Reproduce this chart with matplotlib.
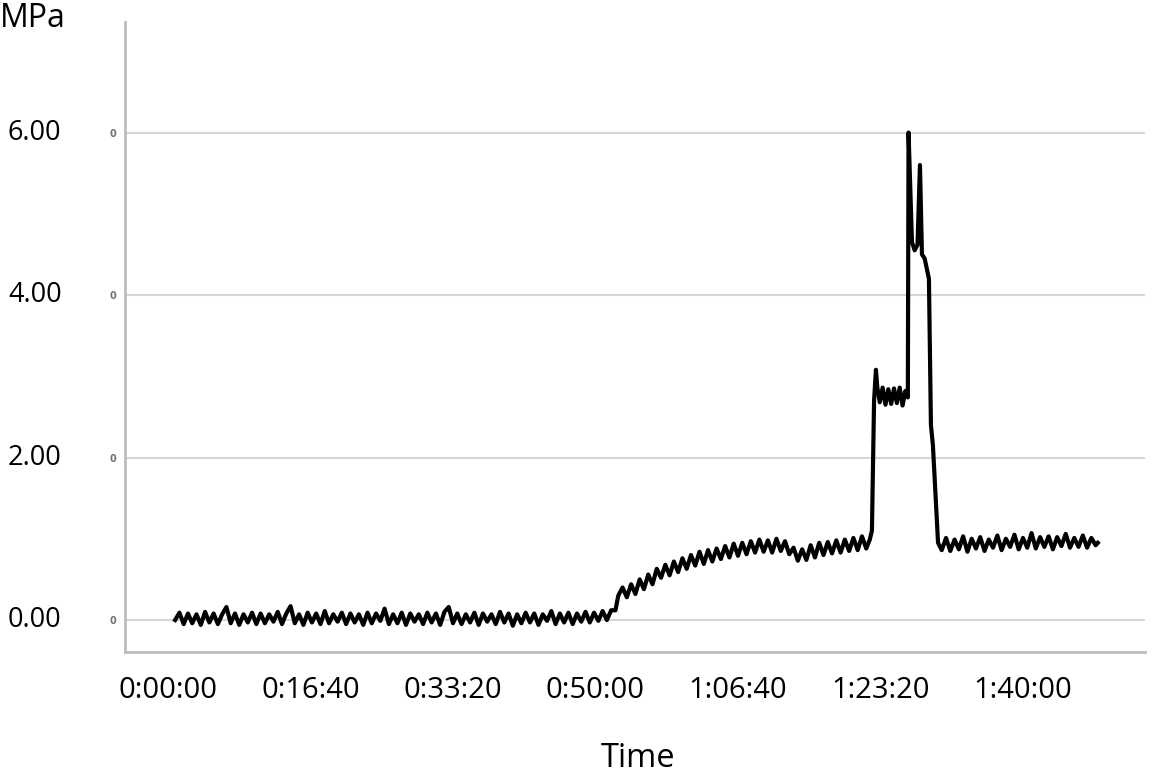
import matplotlib
matplotlib.use("Agg")
import matplotlib.pyplot as plt
import matplotlib.transforms as mtransforms

# ---- data ----
# flat start, ~0 MPa
t_start = [
    50, 80, 110, 140, 170, 200, 230, 260, 290, 320, 350, 380, 410, 440, 470, 500, 530, 560, 590, 620,
    650, 680, 710, 740, 770, 800, 830, 860, 890, 920, 950, 980, 1010, 1040, 1070, 1100, 1130, 1160, 1190, 1220,
    1250, 1280, 1310, 1340, 1370, 1400, 1430, 1460, 1490, 1520, 1550, 1580, 1610, 1640, 1670, 1700, 1730, 1760, 1790, 1820,
    1850, 1880, 1910, 1940, 1970, 2000, 2030, 2060, 2090, 2120, 2150, 2180, 2210, 2240, 2270, 2300, 2330, 2360, 2390, 2420,
    2450, 2480, 2510, 2540, 2570, 2600, 2630, 2660, 2690, 2720, 2750, 2780, 2810, 2840, 2870, 2900, 2930, 2960, 2990, 3020,
    3050, 3080, 3110,
]
p_start = [
    0.00, 0.09, -0.05, 0.08, -0.04, 0.07, -0.06, 0.10, -0.03, 0.08, -0.05, 0.07, 0.16, -0.04, 0.08, -0.06, 0.07, -0.03, 0.09, -0.05,
    0.08, -0.04, 0.07, -0.02, 0.10, -0.05, 0.08, 0.17, -0.04, 0.07, -0.06, 0.09, -0.03, 0.08, -0.05, 0.11, -0.04, 0.07, -0.02, 0.09,
    -0.05, 0.08, -0.03, 0.07, -0.06, 0.09, -0.04, 0.08, -0.01, 0.14, -0.05, 0.07, -0.04, 0.09, -0.06, 0.08, -0.02, 0.07, -0.05, 0.09,
    -0.03, 0.08, -0.06, 0.10, 0.16, -0.04, 0.08, -0.05, 0.07, -0.03, 0.09, -0.06, 0.08, -0.02, 0.07, -0.05, 0.10, -0.03, 0.08, -0.07,
    0.07, -0.04, 0.09, -0.03, 0.08, -0.06, 0.07, -0.01, 0.11, -0.05, 0.08, -0.03, 0.09, -0.05, 0.08, -0.02, 0.10, -0.03, 0.09, -0.01,
    0.11, 0.00, 0.12,
]
# slow rise to ~0.9 MPa
t_rise = [
    3140, 3160, 3190, 3220, 3250, 3280, 3310, 3340, 3370, 3400, 3430, 3460, 3490, 3520, 3550, 3580, 3610, 3640, 3670, 3700,
    3730, 3760, 3790, 3820, 3850, 3880, 3910, 3940, 3970, 4000, 4030, 4060, 4090, 4120, 4150, 4180, 4210, 4240, 4270, 4300,
    4330, 4360, 4390, 4420, 4450, 4480, 4510, 4540, 4570, 4600, 4630, 4660, 4690, 4720, 4750, 4780, 4810, 4840, 4870, 4900,
    4925,
]
p_rise = [
    0.12, 0.30, 0.40, 0.28, 0.44, 0.32, 0.50, 0.38, 0.56, 0.44, 0.63, 0.52, 0.68, 0.55, 0.72, 0.59, 0.76, 0.63, 0.80, 0.67,
    0.84, 0.69, 0.86, 0.72, 0.88, 0.75, 0.91, 0.77, 0.94, 0.79, 0.95, 0.81, 0.97, 0.83, 0.99, 0.84, 0.98, 0.83, 1.00, 0.85,
    0.97, 0.81, 0.89, 0.73, 0.87, 0.74, 0.92, 0.77, 0.95, 0.80, 0.96, 0.82, 0.98, 0.83, 0.99, 0.85, 1.01, 0.86, 1.03, 0.88,
    0.99,
]
# loading peaks
t_peak = [
    4940, 4955, 4968, 4978, 4995, 5015, 5035, 5055, 5075, 5095, 5115, 5135, 5155, 5175, 5192,
    5197, 5221, 5240, 5260, 5277, 5291, 5310, 5328, 5340, 5354, 5368, 5404,
]
p_peak = [
    1.10, 2.70, 3.08, 2.86, 2.68, 2.86, 2.65, 2.84, 2.66, 2.85, 2.67, 2.86, 2.64, 2.82, 2.74,
    6.00, 4.65, 4.55, 4.62, 5.60, 4.50, 4.45, 4.30, 4.20, 2.40, 2.15, 0.95,
]
# tail ~0.95 MPa
t_tail = [
    5430, 5460, 5490, 5520, 5550, 5580, 5610, 5640, 5670, 5700, 5730, 5760, 5790, 5820, 5850, 5880, 5910, 5940, 5970,
    6000, 6030, 6060, 6090, 6120, 6150, 6180, 6210, 6240, 6270, 6300, 6330, 6360, 6390, 6420, 6450, 6480, 6510, 6525,
]
p_tail = [
    0.86, 1.01, 0.85, 0.99, 0.87, 1.03, 0.84, 1.00, 0.88, 1.02, 0.85, 0.99, 0.89, 1.04, 0.86, 1.00, 0.90, 1.05, 0.87,
    1.01, 0.89, 1.07, 0.88, 1.02, 0.90, 1.03, 0.87, 1.02, 0.91, 1.06, 0.89, 1.01, 0.90, 1.04, 0.89, 1.01, 0.92, 0.95,
]

time_s = t_start + t_rise + t_peak + t_tail
pressure_mpa = p_start + p_rise + p_peak + p_tail

x_ticks = [0, 1000, 2000, 3000, 4000, 5000, 6000]
x_tick_labels = ["0:00:00", "0:16:40", "0:33:20", "0:50:00", "1:06:40", "1:23:20", "1:40:00"]
y_ticks = [0, 2, 4, 6]
y_tick_labels = ["0.00", "2.00", "4.00", "6.00"]

FONT = "Open Sans"
GRID = "#d6d6d6"
AXIS = "#bcbcbc"

fig = plt.figure(figsize=(11.55, 7.73), dpi=100)
ax = fig.add_axes([0.1082, 0.1565, 0.8831, 0.815])

ax.plot(time_s, pressure_mpa, color="black", lw=3.0)

ax.set_xlim(-302, 6856)
ax.set_ylim(-0.394, 7.36)

for y in y_ticks:
    ax.axhline(y, color=GRID, lw=1.5, zorder=0)

for s in ["top", "right"]:
    ax.spines[s].set_visible(False)
for s in ["left", "bottom"]:
    ax.spines[s].set_color(AXIS)
    ax.spines[s].set_linewidth(2)

ax.set_xticks(x_ticks)
ax.set_xticklabels(x_tick_labels, fontsize=21, family=FONT)
ax.tick_params(axis="x", length=0, pad=17)

# small stray "0" marks next to the axis, big labels further left
ax.set_yticks(y_ticks)
ax.set_yticklabels(["0"] * len(y_ticks), fontsize=7, color="#707070", fontweight="bold")
ax.tick_params(axis="y", length=0, pad=6)
trans = mtransforms.blended_transform_factory(fig.transFigure, ax.transData)
for y, lab in zip(y_ticks, y_tick_labels):
    ax.text(0.0069, y, lab, transform=trans, fontsize=19.5, family=FONT,
            ha="left", va="center")

fig.text(0.0, 0.965, "MPa", fontsize=23, family=FONT, ha="left", va="baseline")
fig.text(0.5524, 0.0078, "Time", fontsize=23.5, family=FONT, ha="center", va="baseline")

fig.savefig("out.png", dpi=100, facecolor="white")
